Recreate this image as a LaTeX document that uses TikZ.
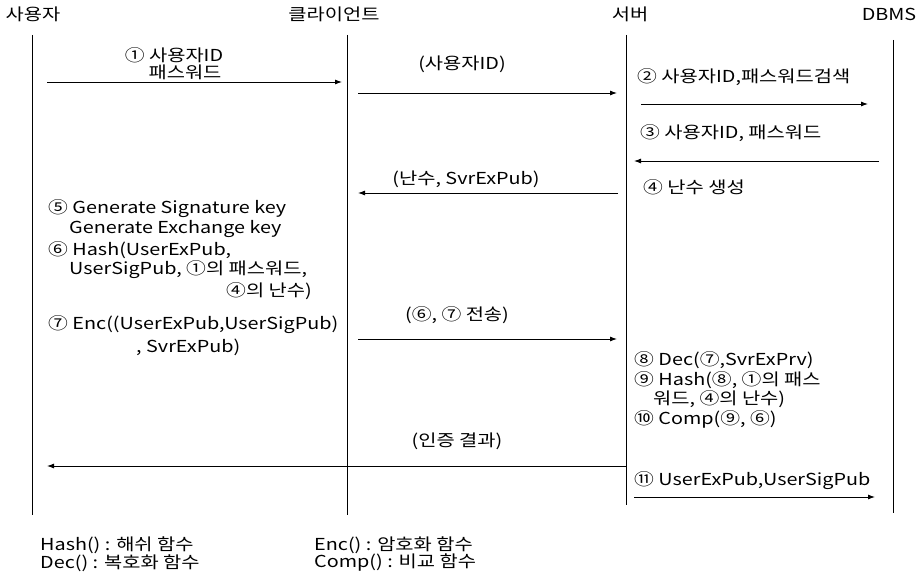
\documentclass[tikz,border=0pt]{standalone}
\usepackage{fontspec}
\setmainfont{Noto Sans CJK KR}[FakeStretch=1.2]
\usetikzlibrary{arrows.meta}
\begin{document}
\begin{tikzpicture}[x=1pt,y=-1pt,
  every node/.style={inner sep=0pt, font=\fontsize{16.5}{19}\selectfont},
  lbl/.style={anchor=west},
  life/.style={line width=0.8pt},
  msg/.style={line width=0.9pt,-{Latex[length=7pt,width=5pt]}}]
\useasboundingbox (0,0) rectangle (919,578);
% headers
\node (u) at (33,14) {사용자};
\node (c) at (334,14) {클라이언트};
\node (s) at (630,14) {서버};
\node (d) at (889,14) {DBMS};
% lifelines
\coordinate (uT) at (32,35);  \coordinate (uB) at (32,515);
\coordinate (cT) at (347,35); \coordinate (cB) at (347,515);
\coordinate (sT) at (626,35); \coordinate (sB) at (626,505);
\coordinate (dT) at (893,40); \coordinate (dB) at (893,513);
\draw[life] (uT) -- (uB);
\draw[life] (cT) -- (cB);
\draw[life] (sT) -- (sB);
\draw[life] (dT) -- (dB);
% message end points
\coordinate (m1a) at (47,82);   \coordinate (m1b) at (342,82);
\coordinate (m2a) at (358,93);  \coordinate (m2b) at (617,93);
\coordinate (m3a) at (641,104); \coordinate (m3b) at (868,104);
\coordinate (m4a) at (879,161); \coordinate (m4b) at (634,161);
\coordinate (m5a) at (618,193); \coordinate (m5b) at (358,193);
\coordinate (m6a) at (358,339); \coordinate (m6b) at (617,339);
\coordinate (m7a) at (626,466); \coordinate (m7b) at (47,466);
\coordinate (m8a) at (634,497); \coordinate (m8b) at (875,497);
\draw[msg] (m1a) -- (m1b);
\draw[msg] (m2a) -- (m2b);
\draw[msg] (m3a) -- (m3b);
\draw[msg] (m4a) -- (m4b);
\draw[msg] (m5a) -- (m5b);
\draw[msg] (m6a) -- (m6b);
\draw[msg] (m7a) -- (m7b);
\draw[msg] (m8a) -- (m8b);
% message labels
\node (t1a) at (174,55) {① 사용자ID};
\node (t1b) at (185,72) {패스워드};
\node (t2) at (462,64) {(사용자ID)};
\node[lbl] (t3) at (637,77) {② 사용자ID,패스워드검색};
\node[lbl] (t4) at (640,133) {③ 사용자ID, 패스워드};
\node (t5) at (466,179) {(난수, SvrExPub)};
\node[lbl] (t6) at (643,187) {④ 난수 생성};
\node (t7) at (457,315) {(⑥, ⑦ 전송)};
\node (t8) at (457,441) {(인증 결과)};
\node[lbl] (t9) at (634,481) {⑪ UserExPub,UserSigPub};
% client-side steps
\node[lbl] (c1) at (48,209) {⑤ Generate Signature key};
\node[lbl] (c2) at (69,229) {Generate Exchange key};
\node[lbl] (c3) at (48,250) {⑥ Hash(UserExPub,};
\node[lbl] (c4) at (69,270) {UserSigPub, ①의 패스워드,};
\node[anchor=east] (c5) at (312,291) {④의 난수)};
\node[lbl] (c6) at (48,325) {⑦ Enc((UserExPub,UserSigPub)};
\node[lbl] (c7) at (136,347) {, SvrExPub)};
% server-side steps
\node[lbl] (s1) at (634,360) {⑧ Dec(⑦,SvrExPrv)};
\node[lbl] (s2) at (634,380) {⑨ Hash(⑧, ①의 패스};
\node[lbl] (s3) at (653,399) {워드, ④의 난수)};
\node[lbl] (s4) at (634,419) {⑩ Comp(⑨, ⑥)};
% legend
\node[lbl] (g1) at (40,545) {Hash() : 해쉬 함수};
\node[lbl] (g2) at (40,563) {Dec() : 복호화 함수};
\node[lbl] (g3) at (314,545) {Enc() : 암호화 함수};
\node[lbl] (g4) at (314,563) {Comp() : 비교 함수};
\end{tikzpicture}
\end{document}
